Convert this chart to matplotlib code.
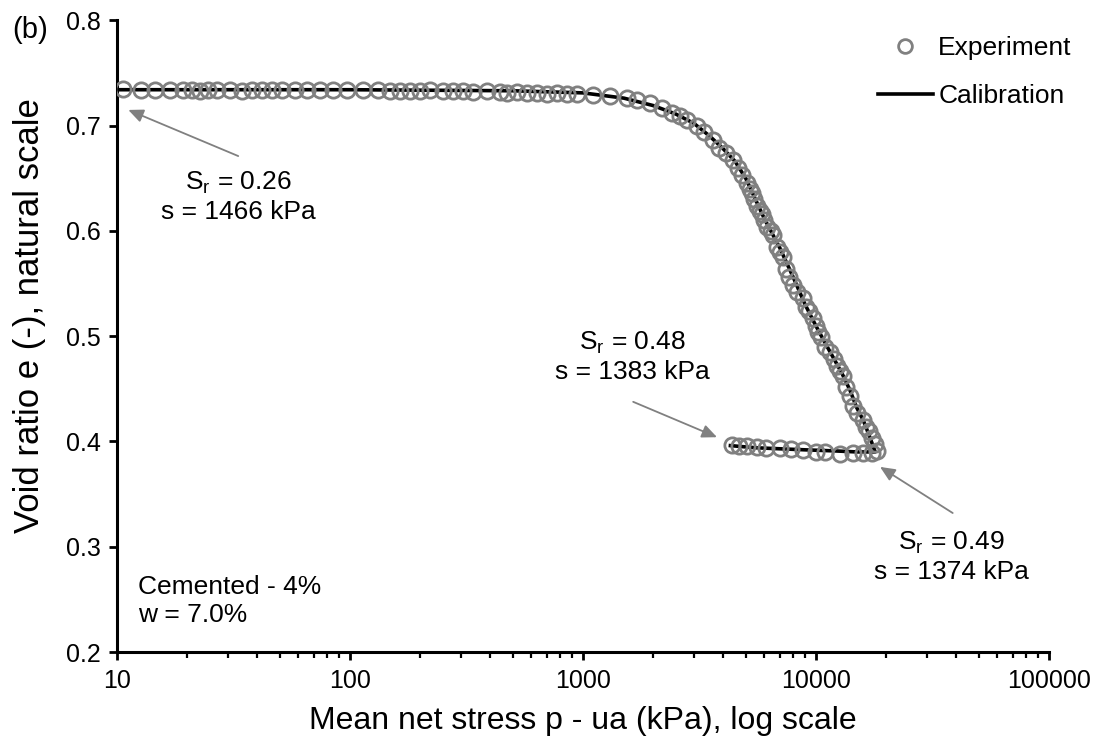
import matplotlib.pyplot as plt
from matplotlib.ticker import FixedLocator, LogLocator, NullFormatter

plt.rcParams['font.family'] = ['Liberation Sans', 'DejaVu Sans']

# Experiment: mean net stress (kPa) and void ratio
exp_p = [10.6, 12.6, 14.6, 16.9, 19.2, 21.0, 22.7, 24.6, 26.9, 30.5, 34.4, 37.9, 41.9,
         46.2, 51.0, 58.0, 65.3, 74.3, 84.5, 97.1, 113.7, 131.9, 148.5, 164, 181, 200,
         221, 251, 277, 305, 337, 387, 440, 472, 521, 575, 635, 700, 773, 853, 942,
         1104, 1306, 1540, 1706, 1940, 2177, 2420, 2600, 2800, 3090, 3310, 3610, 3860,
         4130, 4400, 4640, 4840, 5060, 5200, 5330, 5450, 5580, 5750, 5900, 6000, 6200,
         6400, 6560, 6800, 7000, 7200, 7480, 7700, 7950, 8300, 8780, 9100, 9370, 9700,
         10000, 10250, 10500, 11000, 11500, 12000, 12300, 12700, 13100, 13500, 14000,
         14400, 15000, 15900, 16500, 17000, 17500, 17900, 18300,
         17500, 16000, 14400, 12700, 11000, 10000, 8780, 7800, 7000, 6140, 5580, 5060,
         4700, 4370]
exp_e = [0.735, 0.734, 0.734, 0.734, 0.734, 0.734, 0.733, 0.734, 0.734, 0.734, 0.733,
         0.734, 0.734, 0.734, 0.734, 0.734, 0.734, 0.734, 0.734, 0.734, 0.734, 0.734,
         0.733, 0.733, 0.733, 0.733, 0.734, 0.733, 0.733, 0.733, 0.732, 0.733, 0.732,
         0.731, 0.732, 0.731, 0.731, 0.730, 0.731, 0.730, 0.730,
         0.729, 0.728, 0.726, 0.724, 0.721, 0.717, 0.712, 0.709, 0.705, 0.700, 0.694,
         0.686, 0.679, 0.674, 0.667, 0.660, 0.653, 0.645, 0.640, 0.636, 0.630, 0.624,
         0.619, 0.616, 0.610, 0.604, 0.600, 0.596, 0.585, 0.580, 0.575, 0.564, 0.556,
         0.549, 0.542, 0.536, 0.528, 0.524, 0.517, 0.510, 0.504, 0.499, 0.490, 0.485,
         0.478, 0.472, 0.467, 0.462, 0.452, 0.443, 0.434, 0.427, 0.420, 0.414, 0.410,
         0.403, 0.398, 0.391,
         0.389, 0.389, 0.389, 0.388, 0.390, 0.390, 0.392, 0.393, 0.394, 0.394, 0.395,
         0.396, 0.396, 0.397]

# Calibration curve
cal_p = [10, 100, 500, 1000, 1500, 2000, 2500, 3000, 3500, 4000, 4500, 5000, 6000,
         7000, 8000, 9000, 10000, 11000, 12000, 13000, 14000, 15000, 16000, 17000,
         18000, 15000, 12000, 9000, 7000, 5500, 4300]
cal_e = [0.734, 0.734, 0.733, 0.731, 0.726, 0.719, 0.711, 0.702, 0.690, 0.678, 0.666,
         0.650, 0.612, 0.584, 0.556, 0.530, 0.510, 0.493, 0.478, 0.464, 0.449, 0.432,
         0.420, 0.405, 0.390, 0.390, 0.391, 0.392, 0.393, 0.394, 0.396]

x_ticks = [10, 100, 1000, 10000, 100000]
y_ticks = [0.2, 0.3, 0.4, 0.5, 0.6, 0.7, 0.8]

grey = '#808080'

fig = plt.figure(figsize=(11.05, 7.49), dpi=100)
ax = fig.add_axes([0.106, 0.1295, 0.843, 0.8435])

ax.plot(cal_p, cal_e, color='black', lw=2.6, label='Calibration', zorder=2)
ax.plot(exp_p, exp_e, 'o', ms=11, mfc='none', mec=grey, mew=2.0,
        label='Experiment', zorder=3)

ax.set_xscale('log')
ax.set_xlim(10, 100000)
ax.set_ylim(0.2, 0.8)
ax.xaxis.set_major_locator(FixedLocator(x_ticks))
ax.set_xticklabels([str(t) for t in x_ticks])
ax.xaxis.set_minor_locator(LogLocator(base=10, subs=range(2, 10)))
ax.xaxis.set_minor_formatter(NullFormatter())
ax.set_yticks(y_ticks)
ax.set_yticklabels([f'{t:.1f}' for t in y_ticks])

for side in ['top', 'right']:
    ax.spines[side].set_visible(False)
for side in ['left', 'bottom']:
    ax.spines[side].set_linewidth(2.2)
ax.tick_params(which='major', direction='out', length=6, width=2, labelsize=18, pad=6)
ax.tick_params(which='minor', direction='out', length=4.5, width=1.6)

ax.set_xlabel('Mean net stress p - ua (kPa), log scale', fontsize=23)
ax.set_ylabel('Void ratio e (-), natural scale', fontsize=25)
ax.xaxis.set_label_coords(0.5, -0.085)
ax.yaxis.set_label_coords(-0.076, 0.532)

# handles order: Experiment first
h, l = ax.get_legend_handles_labels()
ax.legend([h[1], h[0]], [l[1], l[0]], loc='upper left', frameon=False, fontsize=19,
          handlelength=2.1, handletextpad=0.19, labelspacing=0.91, markerscale=0.9,
          borderpad=0, borderaxespad=0, bbox_to_anchor=(0.8165, 0.975))

arrow = dict(arrowstyle='-|>,head_length=0.9,head_width=0.4', color=grey, lw=1.3,
             shrinkA=0, shrinkB=0)
ax.annotate('', xy=(0.012, 0.858), xytext=(0.130, 0.785), xycoords='axes fraction',
            arrowprops=arrow)
ax.annotate('', xy=(0.644, 0.340), xytext=(0.554, 0.396), xycoords='axes fraction',
            arrowprops=arrow)
ax.annotate('', xy=(0.819, 0.293), xytext=(0.897, 0.220), xycoords='axes fraction',
            arrowprops=arrow)

ax.text(0.130, 0.720, '$\\mathregular{S_r}$ = 0.26\ns = 1466 kPa', transform=ax.transAxes,
        ha='center', va='center', fontsize=19)
ax.text(0.553, 0.467, '$\\mathregular{S_r}$ = 0.48\ns = 1383 kPa', transform=ax.transAxes,
        ha='center', va='center', fontsize=19)
ax.text(0.896, 0.150, '$\\mathregular{S_r}$ = 0.49\ns = 1374 kPa', transform=ax.transAxes,
        ha='center', va='center', fontsize=19)
ax.text(0.0225, 0.081, 'Cemented - 4%\nw = 7.0%', transform=ax.transAxes,
        ha='left', va='center', fontsize=19)

fig.text(0.011, 0.96, '(b)', fontsize=21, ha='left', va='center')

fig.savefig('out.png', dpi=100)
